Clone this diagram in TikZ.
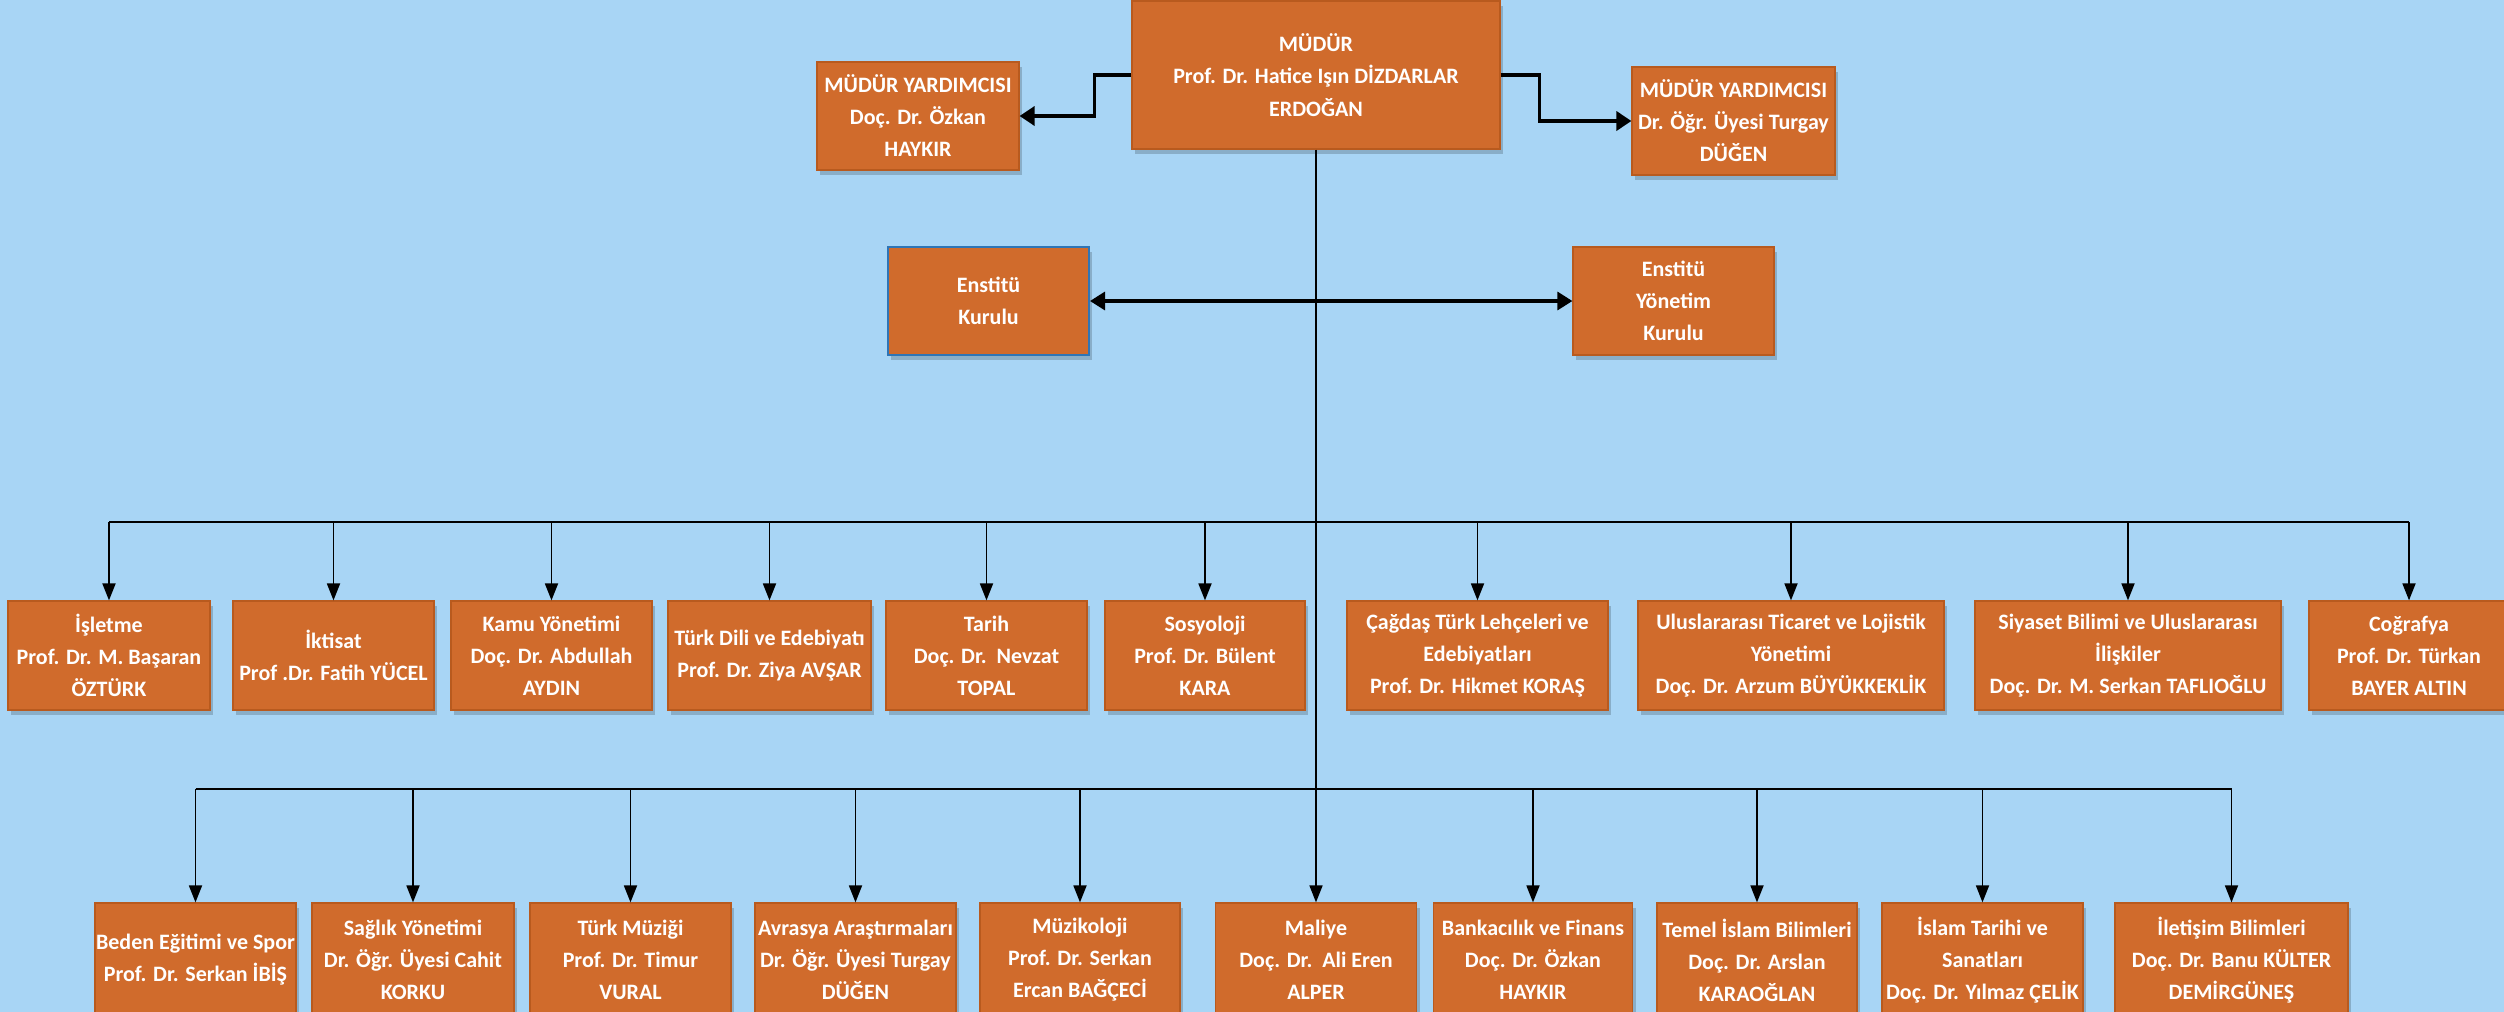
\documentclass[tikz,border=0pt]{standalone}
\usepackage{fontspec}
\setmainfont{Carlito}
\usetikzlibrary{arrows.meta,shadows}
\definecolor{bgblue}{RGB}{168,213,245}
\definecolor{boxfill}{RGB}{208,107,44}
\definecolor{boxedge}{RGB}{184,90,30}
\definecolor{kurulblue}{RGB}{46,117,182}
\tikzset{
  unit/.style={rectangle,draw=boxedge,line width=1.2pt,fill=boxfill,text=white,
    align=center,inner sep=0pt,font=\bfseries\fontsize{22}{32}\selectfont,
    drop shadow={shadow xshift=3pt,shadow yshift=-5pt,opacity=0.18,fill=black}},
  heavy/.style={line width=3.5pt,-{Triangle[length=15pt,width=19pt]}},
  twoway/.style={line width=3.2pt,{Triangle[length=15pt,width=18pt]}-{Triangle[length=15pt,width=18pt]}},
  feed/.style={line width=1.8pt,-{Triangle[length=17pt,width=13pt]}},
  bus/.style={line width=1.8pt},
}
\begin{document}
\begin{tikzpicture}[x=1pt,y=-1pt]
        \clip (0,0) rectangle (2504,1012);
        \fill[bgblue] (0,0) rectangle (2504,1012);
        % management
        \node at (1316,75) [unit,minimum width=368pt,minimum height=148pt,font=\bfseries\fontsize{22}{32.5}\selectfont] (mudur) {MÜDÜR\\Prof. Dr. Hatice Işın DİZDARLAR\\ERDOĞAN};
        \node at (918,116) [unit,minimum width=202pt,minimum height=108pt] (yrdA) {MÜDÜR YARDIMCISI\\Doç. Dr. Özkan\\HAYKIR};
        \node at (1733.5,121) [unit,minimum width=203pt,minimum height=108pt] (yrdB) {MÜDÜR YARDIMCISI\\Dr. Öğr. Üyesi Turgay\\DÜĞEN};
        \node at (988.5,301) [unit,draw=kurulblue,line width=2pt,minimum width=201pt,minimum height=108pt] (kurul) {Enstitü\\Kurulu};
        \node at (1673.5,301) [unit,minimum width=201pt,minimum height=108pt] (ykurul) {Enstitü\\Yönetim\\Kurulu};
        % first row of departments
        \node at (109,655.5) [unit,minimum width=202pt,minimum height=109pt] (isletme) {İşletme\\Prof. Dr. M. Başaran\\ÖZTÜRK};
        \node at (333.5,655.5) [unit,minimum width=201pt,minimum height=109pt] (iktisat) {İktisat\\Prof .Dr. Fatih YÜCEL};
        \node at (551.5,655.5) [unit,minimum width=201pt,minimum height=109pt] (kamu) {Kamu Yönetimi\\Doç. Dr. Abdullah\\AYDIN};
        \node at (769.5,655.5) [unit,minimum width=203pt,minimum height=109pt] (turkdili) {Türk Dili ve Edebiyatı\\Prof. Dr. Ziya AVŞAR};
        \node at (986.5,655.5) [unit,minimum width=201pt,minimum height=109pt] (tarih) {Tarih\\Doç. Dr.\ \ Nevzat\\TOPAL};
        \node at (1205,655.5) [unit,minimum width=200pt,minimum height=109pt] (sosyoloji) {Sosyoloji\\Prof. Dr. Bülent\\KARA};
        \node at (1477.5,655.5) [unit,minimum width=261pt,minimum height=109pt] (cagdas) {Çağdaş Türk Lehçeleri ve\\Edebiyatları\\Prof. Dr. Hikmet KORAŞ};
        \node at (1791,655.5) [unit,minimum width=306pt,minimum height=109pt] (ticaret) {Uluslararası Ticaret ve Lojistik\\Yönetimi\\Doç. Dr. Arzum BÜYÜKKEKLİK};
        \node at (2128,655.5) [unit,minimum width=306pt,minimum height=109pt] (siyaset) {Siyaset Bilimi ve Uluslararası\\İlişkiler\\Doç. Dr. M. Serkan TAFLIOĞLU};
        \node at (2409,655.5) [unit,minimum width=200pt,minimum height=109pt] (cografya) {Coğrafya\\Prof. Dr. Türkan\\BAYER ALTIN};
        % second row of departments
        \node at (195.5,960) [unit,minimum width=201pt,minimum height=114pt] (beden) {Beden Eğitimi ve Spor\\Prof. Dr. Serkan İBİŞ};
        \node at (413,960) [unit,minimum width=202pt,minimum height=114pt] (saglik) {Sağlık Yönetimi\\Dr. Öğr. Üyesi Cahit\\KORKU};
        \node at (630.5,960) [unit,minimum width=201pt,minimum height=114pt] (muzik) {Türk Müziği\\Prof. Dr. Timur\\VURAL};
        \node at (855.5,960) [unit,minimum width=201pt,minimum height=114pt] (avrasya) {Avrasya Araştırmaları\\Dr. Öğr. Üyesi Turgay\\DÜĞEN};
        \node at (1080,960) [unit,minimum width=200pt,minimum height=114pt] (muzikoloji) {Müzikoloji\\Prof. Dr. Serkan\\Ercan BAĞÇECİ};
        \node at (1316,960) [unit,minimum width=201pt,minimum height=114pt] (maliye) {Maliye\\Doç. Dr.\ \ Ali Eren\\ALPER};
        \node at (1533,960) [unit,minimum width=199pt,minimum height=114pt] (banka) {Bankacılık ve Finans\\Doç. Dr. Özkan\\HAYKIR};
        \node at (1757,960) [unit,minimum width=200pt,minimum height=114pt] (temel) {Temel İslam Bilimleri\\Doç. Dr. Arslan\\KARAOĞLAN};
        \node at (1982.5,960) [unit,minimum width=201pt,minimum height=114pt] (islamtarih) {İslam Tarihi ve\\Sanatları\\Doç. Dr. Yılmaz ÇELİK};
        \node at (2231.5,960) [unit,minimum width=233pt,minimum height=114pt] (iletisim) {İletişim Bilimleri\\Doç. Dr. Banu KÜLTER\\DEMİRGÜNEŞ};
        % connectors
        \coordinate (upbus) at (0,522);
        \coordinate (lowbus) at (0,789);
        \draw[heavy] (mudur.west) -- ++(-37,0) |- (yrdA.east);
        \draw[heavy] (mudur.east) -- ++(39,0) |- (yrdB.west);
        \draw[twoway] (kurul.east) -- (ykurul.west);
        \draw[feed,line width=1.6pt] (mudur.south) -- (maliye.north);
        \draw[bus] (isletme.north |- upbus) -- (cografya.north |- upbus);
        \draw[bus] (beden.north |- lowbus) -- (iletisim.north |- lowbus);
        \draw[feed] (isletme.north |- upbus) -- (isletme.north);
        \draw[feed] (iktisat.north |- upbus) -- (iktisat.north);
        \draw[feed] (kamu.north |- upbus) -- (kamu.north);
        \draw[feed] (turkdili.north |- upbus) -- (turkdili.north);
        \draw[feed] (tarih.north |- upbus) -- (tarih.north);
        \draw[feed] (sosyoloji.north |- upbus) -- (sosyoloji.north);
        \draw[feed] (cagdas.north |- upbus) -- (cagdas.north);
        \draw[feed] (ticaret.north |- upbus) -- (ticaret.north);
        \draw[feed] (siyaset.north |- upbus) -- (siyaset.north);
        \draw[feed] (cografya.north |- upbus) -- (cografya.north);
        \draw[feed] (beden.north |- lowbus) -- (beden.north);
        \draw[feed] (saglik.north |- lowbus) -- (saglik.north);
        \draw[feed] (muzik.north |- lowbus) -- (muzik.north);
        \draw[feed] (avrasya.north |- lowbus) -- (avrasya.north);
        \draw[feed] (muzikoloji.north |- lowbus) -- (muzikoloji.north);
        \draw[feed] (banka.north |- lowbus) -- (banka.north);
        \draw[feed] (temel.north |- lowbus) -- (temel.north);
        \draw[feed] (islamtarih.north |- lowbus) -- (islamtarih.north);
        \draw[feed] (iletisim.north |- lowbus) -- (iletisim.north);
\end{tikzpicture}
\end{document}
